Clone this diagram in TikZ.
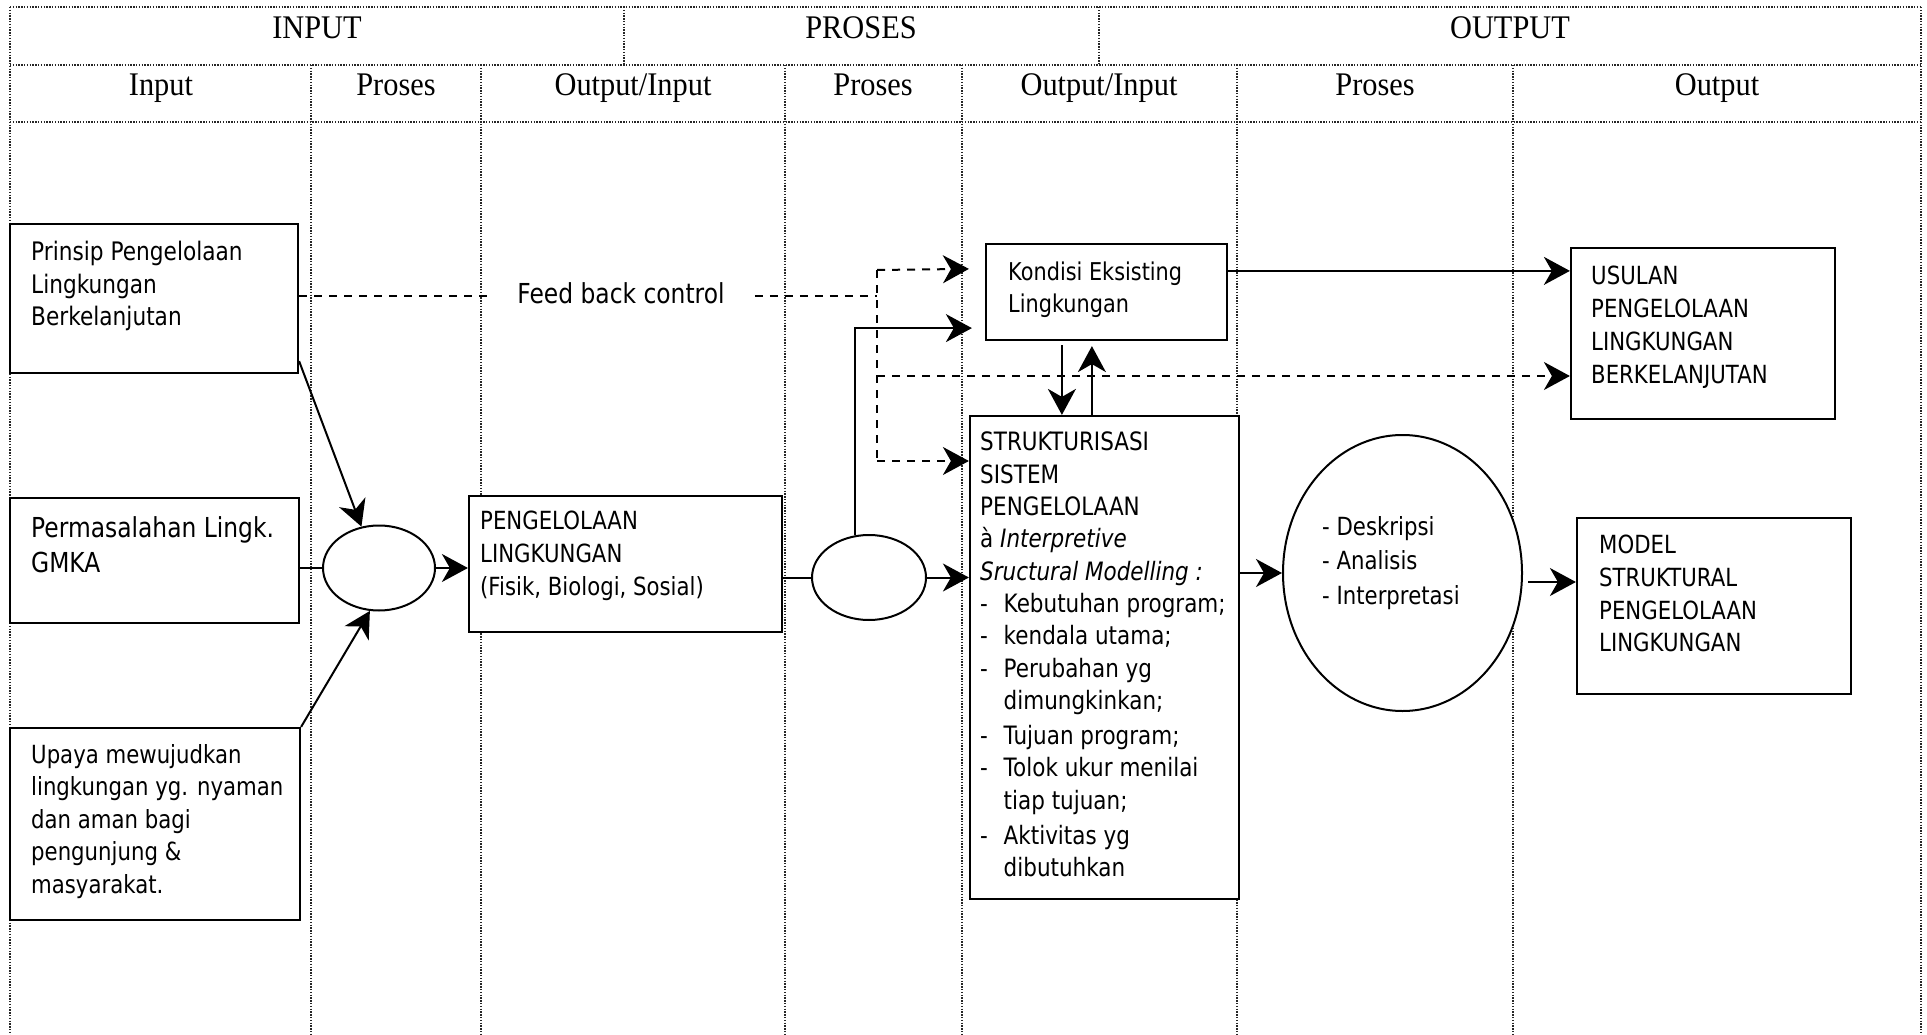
\documentclass[tikz,border=0pt]{standalone}
\usepackage{fontspec}
\usetikzlibrary{arrows.meta,shapes.geometric,fit,calc}
\newfontfamily\tah[FakeStretch=0.85]{DejaVu Sans}
\newfontfamily\hdf[FakeStretch=0.92]{Liberation Serif}
\newcommand\lidash{\makebox[23.5pt][l]{-}}
\newcommand\liskip{\hspace*{23.5pt}}
\begin{document}
\begin{tikzpicture}[x=1pt,y=-1pt,
 grid/.style={line width=1.4pt, dash pattern=on 1.4pt off 1.4pt, black!85},
 box/.style={draw, line width=2.2pt, fill=white, inner sep=0pt},
 oval/.style={draw, ellipse, line width=2pt, fill=white, inner sep=0pt},
 txt/.style={inner sep=0pt, anchor=north west, align=left, font=\tah\fontsize{25.5}{32.5}\selectfont},
 hd/.style={inner sep=0pt, anchor=base, font=\hdf\fontsize{33}{36}\selectfont},
 con/.style={line width=2pt},
 arr/.style={line width=2pt, -{Stealth[length=26pt,width=28pt,inset=8pt]}},
 dsh/.style={line width=2pt, dash pattern=on 8pt off 7pt}]
\fill[white] (0,0) rectangle (1927,1035);
\useasboundingbox (0,0) rectangle (1927,1035);
% grid
\draw[grid] (10,7) -- (1921,7);
\draw[grid] (10,65) -- (1921,65);
\draw[grid] (10,122) -- (1921,122);
\foreach \x in {10,1921} \draw[grid] (\x,7) -- (\x,1035);
\foreach \x in {311,481,785,962,1237,1513} \draw[grid] (\x,65) -- (\x,1035);
\foreach \x in {624,1099} \draw[grid] (\x,7) -- (\x,65);
% headers
\node[hd] (h1) at (317,39) {INPUT};
\node[hd] (h2) at (861,39) {PROSES};
\node[hd] (h3) at (1510,39) {OUTPUT};
\node[hd] (s1) at (161,96) {Input};
\node[hd] (s2) at (396,96) {Proses};
\node[hd] (s3) at (633,96) {Output/Input};
\node[hd] (s4) at (873,96) {Proses};
\node[hd] (s5) at (1099,96) {Output/Input};
\node[hd] (s6) at (1375,96) {Proses};
\node[hd] (s7) at (1717,96) {Output};
% boxes
\node[box, fit={(10,224) (298,373)}] (A) {};
\node[box, fit={(10,498) (299,623)}] (B) {};
\node[box, fit={(10,728) (300,920)}] (C) {};
\node[box, fit={(469,496) (782,632)}] (D) {};
\node[box, fit={(986,244) (1227,340)}] (K) {};
\node[box, fit={(970,416) (1239,899)}] (S) {};
\node[box, fit={(1571,248) (1835,419)}] (U) {};
\node[box, fit={(1577,518) (1851,694)}] (M) {};
\node[oval, minimum width=112pt, minimum height=85pt] (E1) at (379,568) {};
\node[oval, minimum width=114pt, minimum height=85pt] (E2) at (869,577.5) {};
\node[oval, minimum width=239pt, minimum height=276pt] (E3) at (1402.5,573) {};
% texts
\node[txt] (At) at (31,241) {Prinsip Pengelolaan\\Lingkungan\\Berkelanjutan};
\node[txt, font=\tah\fontsize{27.5}{35}\selectfont] (Bt) at (31,516) {Permasalahan Lingk.\\GMKA};
\node[txt, font=\tah\fontsize{25}{32.5}\selectfont] (Ct) at (31,744) {Upaya mewujudkan\\lingkungan yg. nyaman\\dan aman bagi\\pengunjung \&\\masyarakat.};
\node[txt, font=\tah\fontsize{25}{33}\selectfont] (Dt) at (480,511) {PENGELOLAAN\\LINGKUNGAN\\(Fisik, Biologi, Sosial)};
\node[txt, font=\tah\fontsize{24.5}{32}\selectfont] (Kt) at (1008,262) {Kondisi Eksisting\\Lingkungan};
\node[txt, font=\tah\fontsize{25.3}{32.3}\selectfont] (St) at (980,432) {STRUKTURISASI\\SISTEM\\PENGELOLAAN\\à \textit{Interpretive}\\\textit{Sructural Modelling :}\\\lidash Kebutuhan program;\\\lidash kendala utama;\\\lidash Perubahan yg\\\liskip dimungkinkan;\\[3pt]\lidash Tujuan program;\\\lidash Tolok ukur menilai\\\liskip tiap tujuan;\\[3pt]\lidash Aktivitas yg\\\liskip dibutuhkan};
\node[txt, font=\tah\fontsize{25}{34.5}\selectfont] (Et) at (1322,516) {- Deskripsi\\- Analisis\\- Interpretasi};
\node[txt, font=\tah\fontsize{25}{33}\selectfont] (Ut) at (1591,266) {USULAN\\PENGELOLAAN\\LINGKUNGAN\\BERKELANJUTAN};
\node[txt, font=\tah\fontsize{25}{32.7}\selectfont] (Mt) at (1599,535) {MODEL\\STRUKTURAL\\PENGELOLAAN\\LINGKUNGAN};
\node[inner xsep=30pt, inner ysep=0pt, anchor=base, font=\tah\fontsize{27.5}{30}\selectfont] (FB) at (621,303) {Feed back control};
% coordinates
\coordinate (j0) at (877,296);
\coordinate (j1) at (877,270);
\coordinate (j2) at (877,376);
\coordinate (j3) at (877,461);
\coordinate (kd) at ($(K.north west)+(-16,26)$);
\coordinate (kin) at ($(K.south west)+(-13,-13)$);
\coordinate (ko) at ($(K.north east)+(0,28)$);
\coordinate (eo) at ($(E3.east)+(5,9)$);
% solid connectors
\draw[arr] ($(A.south east)+(0,-13)$) -- (E1.113);
\draw[arr] (C.north east) -- (E1.258);
\draw[con] (E1.west -| B.east) -- (E1.west);
\draw[arr] (E1.east) -- (E1.east -| D.west);
\draw[con] (E2.west -| D.east) -- (E2.west);
\draw[arr] (E2.east) -- (E2.east -| S.west);
\draw[arr] (E2.109) |- (kin);
\draw[arr] ($(K.south west)+(77,4)$) -- ($(S.north west)+(93,0)$);
\draw[arr] ($(S.north west)+(123,0)$) -- ($(K.south west)+(107,5)$);
\draw[arr] (ko) -- (ko -| U.west);
\draw[arr] (E3.west -| S.east) -- (E3.west);
\draw[arr] (eo) -- (eo -| M.west);
% dashed feedback
\draw[dsh] (A.east |- j0) -- (FB.west |- j0);
\draw[dsh] (FB.east |- j0) -- (j0);
\draw[dsh] (j1) -- (j3);
\draw[dsh, arr] (j1) -- (kd);
\draw[dsh, arr] (j2) -- (j2 -| U.west);
\draw[dsh, arr] (j3) -- (j3 -| S.west);
\end{tikzpicture}
\end{document}
